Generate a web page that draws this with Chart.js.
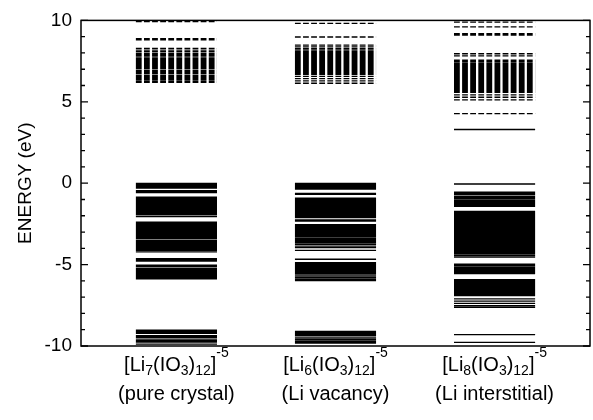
<!DOCTYPE html>
<html>
<head>
<meta charset="utf-8">
<script src="https://cdn.jsdelivr.net/npm/chart.js@4.4.1/dist/chart.umd.min.js"></script>
<style>
html,body{margin:0;padding:0;background:#fff;}
#wrap{width:593px;height:420px;position:relative;}
</style>
</head>
<body>
<div id="wrap"><canvas id="c" width="593" height="420"></canvas></div>
<script>
// ---- data ----
const categoryPositions = [1, 2, 3];
const liCounts = ['7', '6', '8'];
const descriptions = ['(pure crystal)', '(Li vacancy)', '(Li interstitial)'];

// occupied levels (solid lines), eV
const pureOccupied = [-0.01,-0.07,-0.13,-0.19,-0.25,-0.30,-0.45,-0.52,-0.58,-0.86,-0.92,-0.98,-1.04,-1.10,-1.16,-1.22,-1.28,-1.34,-1.40,-1.46,-1.52,-1.58,-1.64,-1.70,-1.76,-1.82,-1.88,-1.94,-2.05,-2.40,-2.48,-2.54,-2.60,-2.66,-2.72,-2.78,-2.84,-2.90,-2.96,-3.02,-3.08,-3.14,-3.20,-3.26,-3.32,-3.41,-3.52,-3.58,-3.64,-3.70,-3.76,-3.82,-3.88,-3.94,-4.00,-4.06,-4.12,-4.22,-4.63,-4.70,-4.78,-5.03,-5.10,-5.22,-5.28,-5.34,-5.40,-5.46,-5.52,-5.58,-5.64,-5.70,-5.76,-5.82,-5.88,-9.02,-9.08,-9.14,-9.22,-9.36,-9.42,-9.50,-9.62,-9.68,-9.76,-9.88];
const vacancyOccupied = [-0.01,-0.07,-0.13,-0.19,-0.25,-0.31,-0.37,-0.62,-0.68,-0.92,-0.98,-1.04,-1.10,-1.16,-1.22,-1.28,-1.34,-1.40,-1.46,-1.52,-1.58,-1.64,-1.70,-1.76,-1.82,-1.88,-1.94,-2.00,-2.06,-2.12,-2.25,-2.33,-2.54,-2.60,-2.66,-2.72,-2.78,-2.84,-2.90,-2.96,-3.02,-3.08,-3.14,-3.20,-3.26,-3.36,-3.44,-3.52,-3.58,-3.66,-3.76,-3.86,-3.96,-4.13,-4.67,-4.88,-4.94,-5.00,-5.08,-5.14,-5.22,-5.28,-5.34,-5.40,-5.46,-5.52,-5.58,-5.70,-5.80,-5.90,-5.98,-9.10,-9.16,-9.22,-9.28,-9.34,-9.46,-9.56,-9.64,-9.74,-9.82];
const interstitialOccupied = [3.30,-0.05,-0.55,-0.62,-0.70,-0.81,-0.88,-0.96,-1.05,-1.12,-1.20,-1.28,-1.36,-1.42,-1.73,-1.79,-1.85,-1.91,-1.97,-2.03,-2.09,-2.14,-2.22,-2.30,-2.36,-2.42,-2.48,-2.54,-2.60,-2.68,-2.74,-2.80,-2.86,-2.92,-2.98,-3.04,-3.10,-3.16,-3.22,-3.28,-3.34,-3.42,-3.48,-3.54,-3.60,-3.66,-3.72,-3.78,-3.84,-3.90,-3.96,-4.02,-4.10,-4.18,-4.26,-4.34,-4.44,-4.54,-4.98,-5.06,-5.16,-5.24,-5.32,-5.40,-5.48,-5.56,-5.92,-5.98,-6.04,-6.12,-6.18,-6.24,-6.32,-6.40,-6.46,-6.52,-6.60,-6.68,-6.76,-6.84,-6.90,-7.10,-7.24,-7.38,-7.52,-7.62,-9.30,-9.78];

// unoccupied levels (dashed lines), eV
const pureUnoccupied = [9.93,8.88,8.80,8.28,8.18,8.08,7.98,7.92,7.86,7.80,7.70,7.64,7.58,7.52,7.44,7.38,7.32,7.26,7.20,7.14,7.08,7.02,6.92,6.86,6.80,6.74,6.64,6.58,6.52,6.46,6.38,6.29,6.20];
const vacancyUnoccupied = [9.82,8.98,8.48,8.37,8.27,8.17,8.08,8.02,7.96,7.90,7.84,7.78,7.72,7.64,7.58,7.52,7.46,7.40,7.34,7.28,7.22,7.16,7.10,7.04,6.98,6.92,6.86,6.80,6.74,6.68,6.56,6.42,6.28,6.14];
const interstitialUnoccupied = [9.90,9.60,9.18,9.10,7.95,7.82,7.56,7.50,7.44,7.34,7.28,7.20,7.14,7.08,7.02,6.96,6.90,6.84,6.78,6.72,6.66,6.60,6.54,6.48,6.42,6.36,6.30,6.24,6.18,6.12,6.06,6.00,5.94,5.88,5.82,5.76,5.70,5.64,5.58,5.42,5.28,5.12,4.27];

const yMajorTicks = [-10, -5, 0, 5, 10];
const yMinorTicks = [-9,-8,-7,-6,-4,-3,-2,-1,1,2,3,4,6,7,8,9];

// ---- build datasets ----
const HALF = 0.255;
function levelPoints(center, levels) {
  const pts = [];
  levels.forEach(e => {
    pts.push({x: center - HALF, y: e});
    pts.push({x: center + HALF, y: e});
    pts.push({x: center, y: null});
  });
  return pts;
}
const occupiedSets = [pureOccupied, vacancyOccupied, interstitialOccupied];
const unoccupiedSets = [pureUnoccupied, vacancyUnoccupied, interstitialUnoccupied];
const datasets = [];
categoryPositions.forEach((c, i) => {
  datasets.push({data: levelPoints(c, occupiedSets[i]), borderColor: '#000', borderWidth: 1.3, pointRadius: 0, spanGaps: false, fill: false});
  datasets.push({data: levelPoints(c, unoccupiedSets[i]), borderColor: '#000', borderWidth: 1.3, borderDash: [5.8, 2.3], pointRadius: 0, spanGaps: false, fill: false});
});

const FONT = '"Liberation Sans", Arial, Helvetica, sans-serif';

const framePlugin = {
  id: 'frame',
  afterDraw(chart) {
    const ctx = chart.ctx, a = chart.chartArea, ys = chart.scales.y, xs = chart.scales.x;
    ctx.save();
    ctx.strokeStyle = '#000';
    ctx.lineWidth = 1.5;
    ctx.strokeRect(a.left, a.top, a.right - a.left, a.bottom - a.top);
    ctx.lineWidth = 1.3;
    const tick = (v, len) => {
      const y = ys.getPixelForValue(v);
      ctx.beginPath();
      ctx.moveTo(a.left, y); ctx.lineTo(a.left + len, y);
      ctx.moveTo(a.right, y); ctx.lineTo(a.right - len, y);
      ctx.stroke();
    };
    yMajorTicks.forEach(v => tick(v, 7));
    yMinorTicks.forEach(v => tick(v, 4));

    // category labels
    ctx.fillStyle = '#000';
    ctx.textBaseline = 'alphabetic';
    const big = '20px ' + FONT, small = '14px ' + FONT;
    categoryPositions.forEach((p, i) => {
      const cx = xs.getPixelForValue(p);
      const parts = [['[Li', 0], [liCounts[i], 1], ['(IO', 0], ['3', 1], [')', 0], ['12', 1], [']', 0], ['-5', 2]];
      let w = 0;
      parts.forEach(pt => { ctx.font = pt[1] ? small : big; w += ctx.measureText(pt[0]).width; });
      let x = cx - w / 2;
      const base = 371;
      parts.forEach(pt => {
        ctx.font = pt[1] ? small : big;
        const dy = pt[1] === 1 ? 4 : (pt[1] === 2 ? -14 : 0);
        ctx.fillText(pt[0], x, base + dy);
        x += ctx.measureText(pt[0]).width;
      });
      ctx.font = big;
      ctx.textAlign = 'center';
      ctx.fillText(descriptions[i], cx, 400);
      ctx.textAlign = 'left';
    });
    ctx.restore();
  }
};

new Chart(document.getElementById('c'), {
  type: 'line',
  data: {datasets},
  options: {
    responsive: false,
    animation: false,
    events: [],
    layout: {padding: {top: 17, right: 3, left: 0, bottom: 0}},
    plugins: {legend: {display: false}, tooltip: {enabled: false}},
    scales: {
      x: {
        type: 'linear', min: 0.4, max: 3.6,
        grid: {display: false, drawTicks: false},
        border: {display: false},
        ticks: {display: false},
        afterFit: s => { s.height = 74; }
      },
      y: {
        type: 'linear', min: -10, max: 10,
        grid: {display: false, drawTicks: false},
        border: {display: false},
        ticks: {stepSize: 5, color: '#000', padding: 9, font: {size: 19, family: FONT}},
        title: {display: true, text: 'ENERGY (eV)', color: '#000', font: {size: 19, family: FONT}, padding: {top: 14, bottom: 0}},
        afterFit: s => { s.width = 81; }
      }
    }
  },
  plugins: [framePlugin]
});
</script>
</body>
</html>
